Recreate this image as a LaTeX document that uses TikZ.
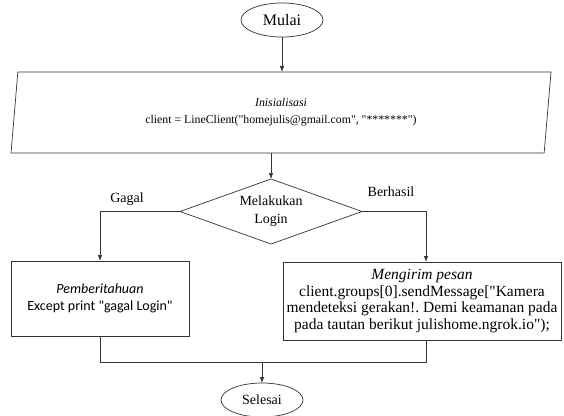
\documentclass[tikz,border=0pt]{standalone}
\usepackage{fontspec}
% plain family (no TeX ligature mapping) so that " stays a straight quote
\newfontfamily\tnrfont{Liberation Serif}
\newfontfamily\calibrifont{Carlito}
\usetikzlibrary{shapes.geometric,arrows.meta}
\begin{document}
\frenchspacing
\begin{tikzpicture}[x=1pt,y=-1pt,
  every node/.style={font=\tnrfont\fontsize{14pt}{17pt}\selectfont, inner sep=0pt, outer sep=0pt},
  line/.style={draw=black!80, line width=0.7pt},
  arr/.style={line, -{Latex[length=6pt,width=4.5pt]}},
  terminal/.style={ellipse, line, minimum width=82pt, minimum height=34pt},
  iobox/.style={trapezium, line, trapezium left angle=76.1, trapezium right angle=103.9,
    trapezium stretches body, minimum width=540pt, minimum height=81pt, align=center,
    font=\tnrfont\fontsize{11.8pt}{17pt}\selectfont},
  decision/.style={diamond, line, aspect=2.8, minimum width=182pt, minimum height=65pt, align=center,
    font=\tnrfont\fontsize{14pt}{18pt}\selectfont},
  process/.style={rectangle, line, align=center},
  label/.style={font=\tnrfont\fontsize{14pt}{17pt}\selectfont}
]
\useasboundingbox (0,0) rectangle (564,415);

% start / input
\node[terminal, font=\tnrfont\fontsize{16pt}{17pt}\selectfont] (mulai) at (282,20) {Mulai};
\node[iobox] (init) at (281,112.5) {\textit{Inisialisasi}\\client = LineClient("homejulis@gmail.com", "*******")};

% decision
\node[decision] (login) at (271,211.5) {Melakukan\\Login};

% branches
\node[process, minimum width=178pt, minimum height=75pt,
      font=\calibrifont\fontsize{14pt}{17pt}\selectfont] (gagal) at (100,298.5)
  {\textit{Pemberitahuan}\\Except print "gagal Login"};
\node[process, minimum width=278pt, minimum height=78pt,
      font=\tnrfont\fontsize{15.5pt}{16.5pt}\selectfont] (kirim) at (422,301)
  {\textit{Mengirim pesan}\\client.groups[0].sendMessage["Kamera\\mendeteksi gerakan!. Demi keamanan pada\\pada tautan berikut julishome.ngrok.io");};

% end
\node[terminal] (selesai) at (262,400) {Selesai};

% branch labels
\node[label] (lgagal) at (127,199) {Gagal};
\node[label] (lberhasil) at (391,192) {Berhasil};

% helper points for the joined lines
\coordinate (cg) at (gagal.north |- login.west);
\coordinate (cb) at (kirim.north -| 426,0);
\coordinate (cbtop) at (426,0 |- login.east);
\coordinate (mg) at (gagal.south |- 0,362);
\coordinate (mb) at (426,362);
\coordinate (ms) at (selesai.north |- 0,362);

% connectors
\draw[arr] (mulai.south) -- (mulai.south |- init.north);
\draw[arr] (init.south -| login.north) -- (login.north);
\draw[arr] (login.west) -- (cg) -- (gagal.north);
\draw[arr] (login.east) -- (cbtop) -- (cb);
\draw[line] (gagal.south) -- (mg) -- (mb) -- (kirim.south -| mb);
\draw[arr] (ms) -- (selesai.north);
\end{tikzpicture}
\end{document}
